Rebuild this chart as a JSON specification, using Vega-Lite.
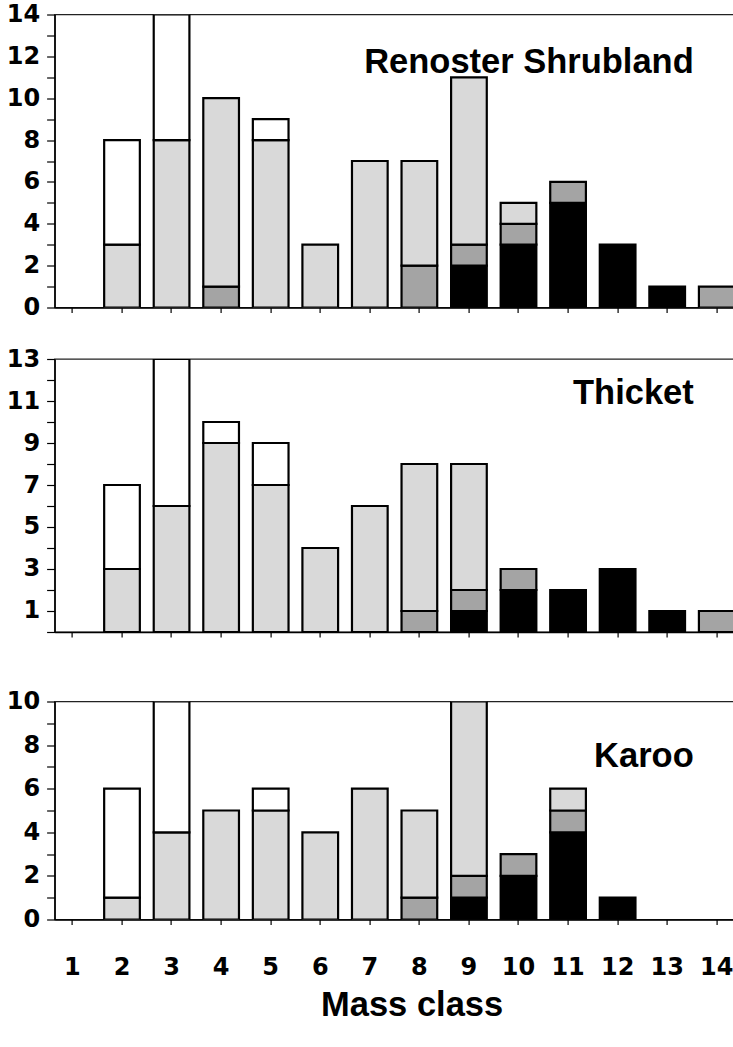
{
  "$schema": "https://vega.github.io/schema/vega-lite/v6.json",
  "padding": {"left": 4.6, "top": 1.5, "right": 0, "bottom": 0},
  "config": {
    "view": {"stroke": "#222", "strokeWidth": 1.3},
    "font": "Liberation Sans",
    "axis": {"labelFont": "DejaVu Sans", "labelFontWeight": "bold", "labelFontSize": 24, "labelColor": "black", "labelOverlap": false, "domainColor": "black", "tickColor": "black", "grid": false, "domainWidth": 1.5, "tickWidth": 1.2, "titleFont": "Liberation Sans", "titleColor": "black"}
  },
  "datasets": {
    "d": [
      {"site": "Renoster Shrubland", "mass_class": 2, "group": "3 light stipple", "count": 3},
      {"site": "Renoster Shrubland", "mass_class": 2, "group": "4 open", "count": 5},
      {"site": "Renoster Shrubland", "mass_class": 3, "group": "3 light stipple", "count": 8},
      {"site": "Renoster Shrubland", "mass_class": 3, "group": "4 open", "count": 6},
      {"site": "Renoster Shrubland", "mass_class": 4, "group": "2 dark stipple", "count": 1},
      {"site": "Renoster Shrubland", "mass_class": 4, "group": "3 light stipple", "count": 9},
      {"site": "Renoster Shrubland", "mass_class": 5, "group": "3 light stipple", "count": 8},
      {"site": "Renoster Shrubland", "mass_class": 5, "group": "4 open", "count": 1},
      {"site": "Renoster Shrubland", "mass_class": 6, "group": "3 light stipple", "count": 3},
      {"site": "Renoster Shrubland", "mass_class": 7, "group": "3 light stipple", "count": 7},
      {"site": "Renoster Shrubland", "mass_class": 8, "group": "2 dark stipple", "count": 2},
      {"site": "Renoster Shrubland", "mass_class": 8, "group": "3 light stipple", "count": 5},
      {"site": "Renoster Shrubland", "mass_class": 9, "group": "1 black", "count": 2},
      {"site": "Renoster Shrubland", "mass_class": 9, "group": "2 dark stipple", "count": 1},
      {"site": "Renoster Shrubland", "mass_class": 9, "group": "3 light stipple", "count": 8},
      {"site": "Renoster Shrubland", "mass_class": 10, "group": "1 black", "count": 3},
      {"site": "Renoster Shrubland", "mass_class": 10, "group": "2 dark stipple", "count": 1},
      {"site": "Renoster Shrubland", "mass_class": 10, "group": "3 light stipple", "count": 1},
      {"site": "Renoster Shrubland", "mass_class": 11, "group": "1 black", "count": 5},
      {"site": "Renoster Shrubland", "mass_class": 11, "group": "2 dark stipple", "count": 1},
      {"site": "Renoster Shrubland", "mass_class": 12, "group": "1 black", "count": 3},
      {"site": "Renoster Shrubland", "mass_class": 13, "group": "1 black", "count": 1},
      {"site": "Renoster Shrubland", "mass_class": 14, "group": "2 dark stipple", "count": 1},
      {"site": "Thicket", "mass_class": 2, "group": "3 light stipple", "count": 3},
      {"site": "Thicket", "mass_class": 2, "group": "4 open", "count": 4},
      {"site": "Thicket", "mass_class": 3, "group": "3 light stipple", "count": 6},
      {"site": "Thicket", "mass_class": 3, "group": "4 open", "count": 7},
      {"site": "Thicket", "mass_class": 4, "group": "3 light stipple", "count": 9},
      {"site": "Thicket", "mass_class": 4, "group": "4 open", "count": 1},
      {"site": "Thicket", "mass_class": 5, "group": "3 light stipple", "count": 7},
      {"site": "Thicket", "mass_class": 5, "group": "4 open", "count": 2},
      {"site": "Thicket", "mass_class": 6, "group": "3 light stipple", "count": 4},
      {"site": "Thicket", "mass_class": 7, "group": "3 light stipple", "count": 6},
      {"site": "Thicket", "mass_class": 8, "group": "2 dark stipple", "count": 1},
      {"site": "Thicket", "mass_class": 8, "group": "3 light stipple", "count": 7},
      {"site": "Thicket", "mass_class": 9, "group": "1 black", "count": 1},
      {"site": "Thicket", "mass_class": 9, "group": "2 dark stipple", "count": 1},
      {"site": "Thicket", "mass_class": 9, "group": "3 light stipple", "count": 6},
      {"site": "Thicket", "mass_class": 10, "group": "1 black", "count": 2},
      {"site": "Thicket", "mass_class": 10, "group": "2 dark stipple", "count": 1},
      {"site": "Thicket", "mass_class": 11, "group": "1 black", "count": 2},
      {"site": "Thicket", "mass_class": 12, "group": "1 black", "count": 3},
      {"site": "Thicket", "mass_class": 13, "group": "1 black", "count": 1},
      {"site": "Thicket", "mass_class": 14, "group": "2 dark stipple", "count": 1},
      {"site": "Karoo", "mass_class": 2, "group": "3 light stipple", "count": 1},
      {"site": "Karoo", "mass_class": 2, "group": "4 open", "count": 5},
      {"site": "Karoo", "mass_class": 3, "group": "3 light stipple", "count": 4},
      {"site": "Karoo", "mass_class": 3, "group": "4 open", "count": 6},
      {"site": "Karoo", "mass_class": 4, "group": "3 light stipple", "count": 5},
      {"site": "Karoo", "mass_class": 5, "group": "3 light stipple", "count": 5},
      {"site": "Karoo", "mass_class": 5, "group": "4 open", "count": 1},
      {"site": "Karoo", "mass_class": 6, "group": "3 light stipple", "count": 4},
      {"site": "Karoo", "mass_class": 7, "group": "3 light stipple", "count": 6},
      {"site": "Karoo", "mass_class": 8, "group": "2 dark stipple", "count": 1},
      {"site": "Karoo", "mass_class": 8, "group": "3 light stipple", "count": 4},
      {"site": "Karoo", "mass_class": 9, "group": "1 black", "count": 1},
      {"site": "Karoo", "mass_class": 9, "group": "2 dark stipple", "count": 1},
      {"site": "Karoo", "mass_class": 9, "group": "3 light stipple", "count": 8},
      {"site": "Karoo", "mass_class": 10, "group": "1 black", "count": 2},
      {"site": "Karoo", "mass_class": 10, "group": "2 dark stipple", "count": 1},
      {"site": "Karoo", "mass_class": 11, "group": "1 black", "count": 4},
      {"site": "Karoo", "mass_class": 11, "group": "2 dark stipple", "count": 1},
      {"site": "Karoo", "mass_class": 11, "group": "3 light stipple", "count": 1},
      {"site": "Karoo", "mass_class": 12, "group": "1 black", "count": 1}
    ]
  },
  "spacing": 43,
  "vconcat": [
    {
      "spacing": 25.5,
      "vconcat": [
        {
          "width": 680, "height": 293,
          "layer": [
            {
              "data": {"name": "d"},
              "transform": [{"filter": "datum.site == 'Renoster Shrubland'"}],
              "mark": {"type": "bar", "stroke": "black", "strokeWidth": 2.2, "clip": true},
              "encoding": {
                "x": {"field": "mass_class", "type": "ordinal", "scale": {"domain": [1,2,3,4,5,6,7,8,9,10,11,12,13,14], "paddingInner": 0.28, "paddingOuter": 0}, "axis": {"labels": false, "tickSize": 5, "title": null}},
                "y": {"field": "count", "type": "quantitative", "stack": "zero", "scale": {"domain": [0, 14], "nice": false}, "axis": {"values": [0,1,2,3,4,5,6,7,8,9,10,11,12,13,14], "tickCount": 30, "format": "d", "labelExpr": "datum.value % 2 == 0 ? datum.label : ''", "tickSize": 8, "labelPadding": 7, "title": null}},
                "color": {"field": "group", "type": "nominal", "scale": {"domain": ["1 black", "2 dark stipple", "3 light stipple", "4 open"], "range": ["black", "#a4a4a4", "#d9d9d9", "white"]}, "legend": null},
                "order": {"field": "group", "sort": "ascending"}
              }
            },
            {
              "data": {"values": [{"site": "Renoster Shrubland"}]},
              "mark": {"type": "text", "align": "right", "baseline": "alphabetic", "fontSize": 34.5, "fontWeight": "bold", "font": "Liberation Sans", "color": "black", "dx": -23},
              "encoding": {"x": {"datum": 14, "type": "ordinal"}, "y": {"datum": 11.2, "type": "quantitative"}, "text": {"field": "site"}}
            }
          ]
        },
        {
          "width": 680, "height": 273,
          "layer": [
            {
              "data": {"name": "d"},
              "transform": [{"filter": "datum.site == 'Thicket'"}],
              "mark": {"type": "bar", "stroke": "black", "strokeWidth": 2.2, "clip": true},
              "encoding": {
                "x": {"field": "mass_class", "type": "ordinal", "scale": {"domain": [1,2,3,4,5,6,7,8,9,10,11,12,13,14], "paddingInner": 0.28, "paddingOuter": 0}, "axis": {"labels": false, "tickSize": 5, "title": null}},
                "y": {"field": "count", "type": "quantitative", "stack": "zero", "scale": {"domain": [0, 13], "nice": false}, "axis": {"values": [0,1,2,3,4,5,6,7,8,9,10,11,12,13], "tickCount": 30, "format": "d", "labelExpr": "datum.value % 2 == 1 ? datum.label : ''", "tickSize": 8, "labelPadding": 7, "title": null}},
                "color": {"field": "group", "type": "nominal", "scale": {"domain": ["1 black", "2 dark stipple", "3 light stipple", "4 open"], "range": ["black", "#a4a4a4", "#d9d9d9", "white"]}, "legend": null},
                "order": {"field": "group", "sort": "ascending"}
              }
            },
            {
              "data": {"values": [{"site": "Thicket"}]},
              "mark": {"type": "text", "align": "right", "baseline": "alphabetic", "fontSize": 34.5, "fontWeight": "bold", "font": "Liberation Sans", "color": "black", "dx": -23},
              "encoding": {"x": {"datum": 14, "type": "ordinal"}, "y": {"datum": 10.85, "type": "quantitative"}, "text": {"field": "site"}}
            }
          ]
        }
      ]
    },
    {
      "width": 680, "height": 218,
      "layer": [
        {
          "data": {"name": "d"},
          "transform": [{"filter": "datum.site == 'Karoo'"}],
          "mark": {"type": "bar", "stroke": "black", "strokeWidth": 2.2, "clip": true},
          "encoding": {
            "x": {"field": "mass_class", "type": "ordinal", "scale": {"domain": [1,2,3,4,5,6,7,8,9,10,11,12,13,14], "paddingInner": 0.28, "paddingOuter": 0}, "axis": {"labelAngle": 0, "tickSize": 5, "labelPadding": 31, "labelFontSize": 24, "title": "Mass class", "titleFontSize": 34.5, "titleFontWeight": "bold", "titlePadding": 9, "titleX": 357}},
            "y": {"field": "count", "type": "quantitative", "stack": "zero", "scale": {"domain": [0, 10], "nice": false}, "axis": {"values": [0,1,2,3,4,5,6,7,8,9,10], "tickCount": 30, "format": "d", "labelExpr": "datum.value % 2 == 0 ? datum.label : ''", "tickSize": 8, "labelPadding": 7, "title": null}},
            "color": {"field": "group", "type": "nominal", "scale": {"domain": ["1 black", "2 dark stipple", "3 light stipple", "4 open"], "range": ["black", "#a4a4a4", "#d9d9d9", "white"]}, "legend": null},
            "order": {"field": "group", "sort": "ascending"}
          }
        },
        {
          "data": {"values": [{"site": "Karoo"}]},
          "mark": {"type": "text", "align": "right", "baseline": "alphabetic", "fontSize": 34.5, "fontWeight": "bold", "font": "Liberation Sans", "color": "black", "dx": -23},
          "encoding": {"x": {"datum": 14, "type": "ordinal"}, "y": {"datum": 7.0, "type": "quantitative"}, "text": {"field": "site"}}
        }
      ]
    }
  ]
}
